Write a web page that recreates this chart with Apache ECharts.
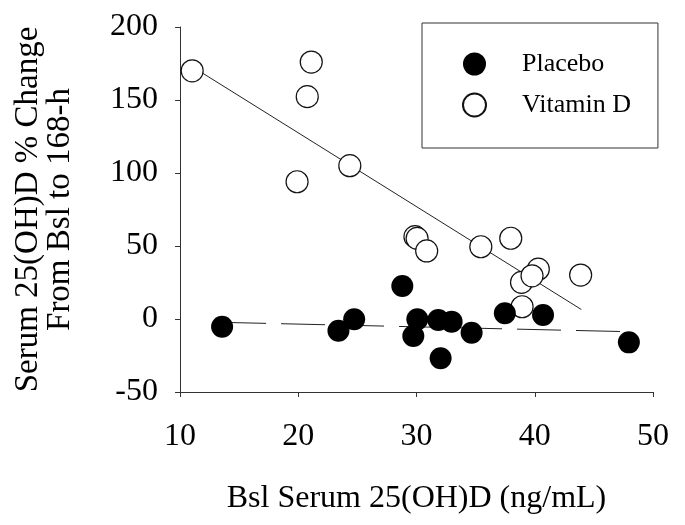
<!DOCTYPE html>
<html>
<head>
<meta charset="utf-8">
<script src="https://cdn.jsdelivr.net/npm/echarts@6/dist/echarts.min.js"></script>
<style>
html,body{margin:0;padding:0;background:#fff;}
#chart{width:685px;height:525px;}
</style>
</head>
<body>
<div id="chart"></div>
<script>
// Placebo: [baseline 25(OH)D, % change]
var placebo = [
  [13.56, -5.3], [23.4, -8], [24.73, -0.2], [28.8, 22.6], [30.07, -0.2],
  [29.73, -11.6], [31.84, -0.7], [32.97, -1.8], [32.04, -26.9], [34.66, -9.4],
  [37.47, 3.9], [40.7, 2.7], [47.96, -16]
];
// Vitamin D
var vitaminD = [
  [11.03, 170], [21.1, 176], [20.76, 152.3], [24.36, 105], [19.9, 94],
  [29.87, 56.4], [30.05, 55.2], [30.86, 46.6], [35.44, 49.5], [37.97, 55.3],
  [38.88, 25.1], [40.3, 34.1], [39.77, 29.6], [43.88, 30.1], [38.93, 8.4]
];
// Regression line end points
var vitDFit = [[11.0, 173], [43.94, 6.5]];
var placeboFit = [[13.56, -2.3], [47.96, -8.7]];
var xTicks = {min: 10, max: 50, interval: 10};
var yTicks = {min: -50, max: 200, interval: 50};

var FONT = 'Liberation Serif';
var chart = echarts.init(document.getElementById('chart'), null, {renderer: 'canvas'});
chart.setOption({
  animation: false,
  backgroundColor: '#fff',
  textStyle: {fontFamily: FONT, color: '#000'},
  grid: {left: 180, right: 32, top: 27, bottom: 133, containLabel: false},
  legend: {
    data: ['Placebo', 'Vitamin D'],
    orient: 'vertical',
    left: 422, top: 23,
    padding: [28, 27, 30, 40],
    borderColor: '#333', borderWidth: 1,
    itemWidth: 23, itemHeight: 23, itemGap: 15,
    textStyle: {fontFamily: FONT, fontSize: 26, color: '#000', padding: [0, 0, 0, 31]}
  },
  xAxis: {
    type: 'value', min: xTicks.min, max: xTicks.max, interval: xTicks.interval,
    name: 'Bsl Serum 25(OH)D (ng/mL)', nameLocation: 'middle', nameGap: 91,
    nameTextStyle: {fontFamily: FONT, fontSize: 32, color: '#000'},
    axisLine: {show: true, onZero: false, lineStyle: {color: '#333', width: 1}},
    axisTick: {show: true, inside: false, length: 5, lineStyle: {color: '#333'}},
    axisLabel: {fontFamily: FONT, fontSize: 32, color: '#000', margin: 29},
    splitLine: {show: false}
  },
  yAxis: {
    type: 'value', min: yTicks.min, max: yTicks.max, interval: yTicks.interval,
    name: 'Serum 25(OH)D % Change\nFrom Bsl to 168-h', nameLocation: 'middle', nameGap: 104,
    nameTextStyle: {fontFamily: FONT, fontSize: 33, color: '#000', lineHeight: 32, align: 'center'},
    axisLine: {show: true, onZero: false, lineStyle: {color: '#333', width: 1}},
    axisTick: {show: true, inside: false, length: 5, lineStyle: {color: '#333'}},
    axisLabel: {fontFamily: FONT, fontSize: 32, color: '#000', margin: 22},
    splitLine: {show: false}
  },
  series: [
    {
      name: 'vitDFit', type: 'line', data: vitDFit, symbol: 'none', z: 1,
      lineStyle: {color: '#222', width: 1}, silent: true
    },
    {
      name: 'placeboFit', type: 'line', data: placeboFit, symbol: 'none', z: 1,
      lineStyle: {color: '#222', width: 1, type: [44, 15]}, silent: true
    },
    {
      name: 'Vitamin D', type: 'scatter', data: vitaminD, symbol: 'circle', symbolSize: 22, z: 2,
      itemStyle: {color: '#fff', borderColor: '#111', borderWidth: 1.2, opacity: 1}
    },
    {
      name: 'Placebo', type: 'scatter', data: placebo, symbol: 'circle', symbolSize: 22, z: 3,
      itemStyle: {color: '#000', borderColor: '#000', borderWidth: 0, opacity: 1}
    }
  ]
});
</script>
</body>
</html>
